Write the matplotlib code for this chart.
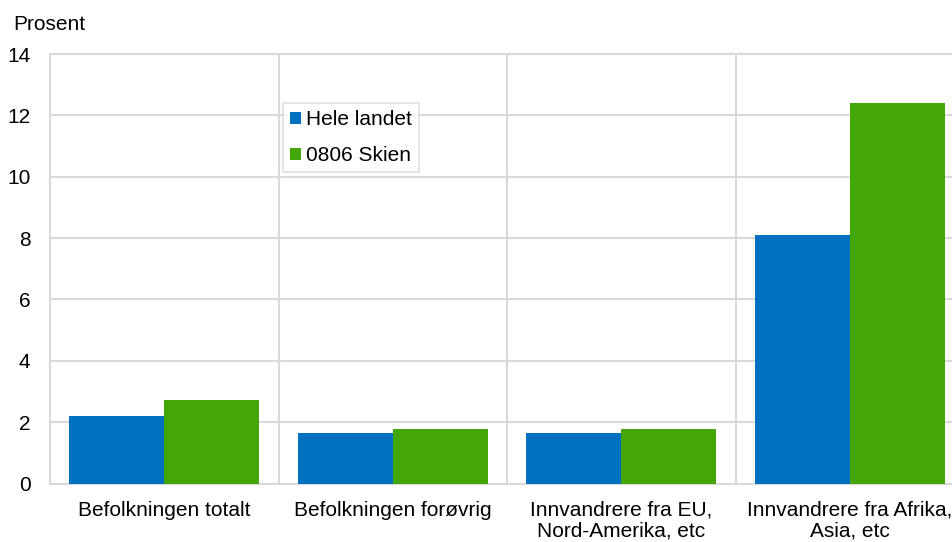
import matplotlib.pyplot as plt
import numpy as np

plt.rcParams['font.family'] = ['Liberation Sans', 'DejaVu Sans']

categories = ["Befolkningen totalt", "Befolkningen forøvrig",
              "Innvandrere fra EU,\nNord-Amerika, etc", "Innvandrere fra Afrika,\nAsia, etc"]
hele_landet = [2.20, 1.63, 1.63, 8.09]
skien = [2.73, 1.79, 1.79, 12.40]
series_names = ["Hele landet", "0806 Skien"]
colors = ["#0070c0", "#43a70a"]

fs = 15
fig = plt.figure(figsize=(9.52, 5.42), dpi=100)
W, H = 952, 542
ax = fig.add_axes([50 / W, (H - 483.5) / H, 914 / W, (483.5 - 54) / H])

x = np.arange(len(categories))
bw = 0.416
ax.bar(x - bw / 2, hele_landet, bw, color=colors[0], label=series_names[0], zorder=3)
ax.bar(x + bw / 2, skien, bw, color=colors[1], label=series_names[1], zorder=3)

ax.set_xlim(-0.5, len(categories) - 0.5)
ax.set_ylim(0, 14)
ax.set_yticks(range(0, 15, 2))
ax.set_xticks(x)
ax.set_xticklabels(categories, fontsize=fs, linespacing=1.1)
ax.tick_params(axis='y', labelsize=fs, length=0, pad=14)
ax.tick_params(axis='x', length=0, pad=12.5)

grid_c = "#d9d9d9"
ax.yaxis.grid(True, color=grid_c, linewidth=1.5, zorder=0)
for b in np.arange(0.5, len(categories) - 0.5, 1):
    ax.axvline(b, color=grid_c, linewidth=1.5, zorder=0)
for s in ax.spines.values():
    s.set_color(grid_c)
    s.set_linewidth(1.5)

fig.text(13 / W, (H - 30) / H, "Prosent", fontsize=fs)

leg = ax.legend(loc='upper left', bbox_to_anchor=((283 - 50) / 914, (483.5 - 103) / (483.5 - 54)),
                fontsize=fs, frameon=True, fancybox=False, handlelength=0.5, handleheight=0.5,
                handletextpad=0.25, borderpad=0.35, labelspacing=0.8, borderaxespad=0)
leg.get_frame().set_edgecolor(grid_c)
leg.get_frame().set_linewidth(1.2)

fig.savefig("out.png", dpi=100)
